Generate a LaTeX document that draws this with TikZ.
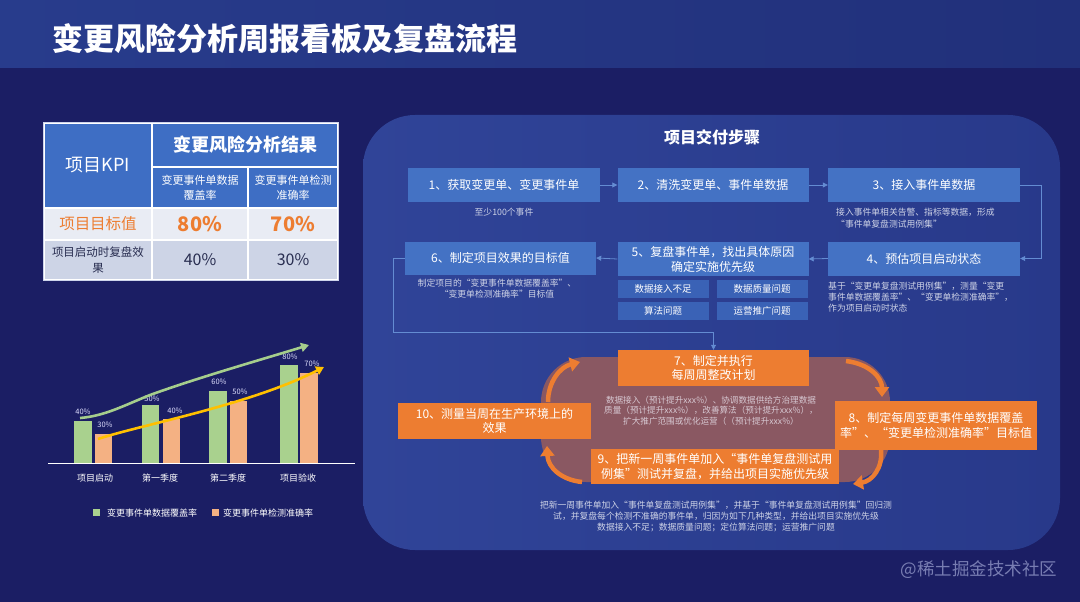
\documentclass[tikz,border=0pt]{standalone}
\usepackage{fontspec}
\setmainfont{Noto Sans CJK SC}
\usetikzlibrary{arrows.meta}
\definecolor{bg}{RGB}{27,30,100}
\definecolor{titleL}{RGB}{40,60,140}
\definecolor{titleR}{RGB}{33,48,122}
\definecolor{panelL}{RGB}{48,68,152}
\definecolor{panelR}{RGB}{40,57,138}
\definecolor{stepblue}{RGB}{68,114,196}
\definecolor{issueblue}{RGB}{58,98,182}
\definecolor{connblue}{RGB}{100,140,210}
\definecolor{ora}{RGB}{237,125,49}
\definecolor{blob}{RGB}{138,88,98}
\definecolor{notegray}{RGB}{205,210,230}
\definecolor{blobtext}{RGB}{215,200,210}
\definecolor{hblue}{RGB}{62,110,196}
\definecolor{rowlight}{RGB}{233,236,244}
\definecolor{rowgray}{RGB}{205,212,230}
\definecolor{darktext}{RGB}{40,45,80}
\definecolor{tborder}{RGB}{205,212,235}
\definecolor{bargreen}{RGB}{169,209,142}
\definecolor{barorange}{RGB}{244,177,131}
\definecolor{arrgreen}{RGB}{165,205,140}
\definecolor{arryellow}{RGB}{255,192,0}
\definecolor{wm}{RGB}{120,125,178}
\begin{document}
\begin{tikzpicture}[x=1pt,y=-1pt,
  stepbox/.style={fill=stepblue, text=white, inner sep=0pt, align=center, font=\fontsize{12}{15}\selectfont},
  issuebox/.style={fill=issueblue, text=white, inner sep=0pt, font=\fontsize{9.5}{11}\selectfont},
  orangebox/.style={fill=ora, text=white, inner sep=0pt, align=center, font=\fontsize{12}{14.5}\selectfont},
  note/.style={text=notegray, inner sep=0pt, font=\fontsize{8.8}{11}\selectfont},
  conn/.style={draw=connblue, line width=0.8pt, -{Triangle[length=5pt,width=5pt]}},
  loopar/.style={draw=ora, line width=4.5pt, -{Triangle[length=10pt,width=14pt]}},
  hcell/.style={fill=hblue, text=white, draw=white, line width=1.2pt, inner sep=0pt, align=center},
  lcell/.style={fill=rowlight, draw=white, line width=1.2pt, inner sep=0pt, align=center},
  gcell/.style={fill=rowgray, draw=white, line width=1.2pt, inner sep=0pt, align=center, text=darktext},
  vlabel/.style={text=white!88!blue, inner sep=0pt, font=\fontsize{7.5}{9}\selectfont},
  clabel/.style={text=white, inner sep=0pt, font=\fontsize{9}{11}\selectfont}
]
\useasboundingbox (0,0) rectangle (1080,602);
\fill[bg] (0,0) rectangle (1080,602);
\shade[left color=titleL, right color=titleR] (0,0) rectangle (1080,68);
\node[anchor=west, text=white, inner sep=0pt, font=\fontsize{31}{36}\selectfont\bfseries] (title) at (52,39) {变更风险分析周报看板及复盘流程};

% ---------- KPI table ----------
\node[hcell, minimum width=108pt, minimum height=85pt, font=\fontsize{18}{20}\selectfont] (kpi) at (98,165.5) {项目KPI};
\node[hcell, minimum width=186pt, minimum height=44pt, font=\fontsize{18}{20}\selectfont\bfseries] (res) at (245,145) {变更风险分析结果};
\node[hcell, minimum width=96pt, minimum height=41pt, font=\fontsize{11}{15}\selectfont] (h1) at (200,187.5) {变更事件单数据\\覆盖率};
\node[hcell, minimum width=90pt, minimum height=41pt, font=\fontsize{11}{15}\selectfont] (h2) at (293,187.5) {变更事件单检测\\准确率};
\node[lcell, minimum width=108pt, minimum height=32pt, text=ora, font=\fontsize{15.5}{18}\selectfont] (t0) at (98,224) {项目目标值};
\node[lcell, minimum width=96pt, minimum height=32pt, text=ora, font=\fontsize{20}{22}\selectfont\bfseries] (t1) at (200,224) {80\%};
\node[lcell, minimum width=90pt, minimum height=32pt, text=ora, font=\fontsize{20}{22}\selectfont\bfseries] (t2) at (293,224) {70\%};
\node[gcell, minimum width=108pt, minimum height=40pt, font=\fontsize{11.5}{16}\selectfont] (b0) at (98,260) {项目启动时复盘效\\果};
\node[gcell, minimum width=96pt, minimum height=40pt, font=\fontsize{16}{18}\selectfont] (b1) at (200,260) {40\%};
\node[gcell, minimum width=90pt, minimum height=40pt, font=\fontsize{16}{18}\selectfont] (b2) at (293,260) {30\%};
\draw[tborder, line width=1.6pt] (kpi.north west) rectangle (b2.south east);

% ---------- bar chart ----------
\fill[bargreen] (74,421) rectangle (92,463);
\fill[barorange] (95,434) rectangle (112,463);
\fill[bargreen] (142,405) rectangle (159,463);
\fill[barorange] (163,419) rectangle (180,463);
\fill[bargreen] (209,391) rectangle (227,463);
\fill[barorange] (230,401) rectangle (247,463);
\fill[bargreen] (280,365) rectangle (298,463);
\fill[barorange] (300,373) rectangle (318,463);
\draw[white, line width=0.8pt] (48,463) -- (355,463);
\node[vlabel] (v1) at (83,412) {40\%};
\node[vlabel] (v2) at (105,425) {30\%};
\node[vlabel] (v3) at (152,399) {50\%};
\node[vlabel] (v4) at (175,411) {40\%};
\node[vlabel] (v5) at (219,382) {60\%};
\node[vlabel] (v6) at (240,392) {50\%};
\node[vlabel] (v7) at (290,357) {80\%};
\node[vlabel] (v8) at (312,364) {70\%};
\draw[arrgreen, line width=2.6pt, -{Triangle[length=8pt,width=9pt]}] (80,418) .. controls (105,416) and (125,405) .. (150,395) .. controls (200,377) and (260,360) .. (309,345);
\draw[arryellow, line width=2.6pt, -{Triangle[length=8pt,width=9pt]}] (98,439) .. controls (140,425) and (250,405) .. (324,367);
\node[clabel] (x1) at (95,478) {项目启动};
\node[clabel] (x2) at (160,478) {第一季度};
\node[clabel] (x3) at (228,478) {第二季度};
\node[clabel] (x4) at (298,478) {项目验收};
\fill[bargreen] (93,509) rectangle (100,516);
\node[clabel, anchor=west] (lg1) at (107,513) {变更事件单数据覆盖率};
\fill[barorange] (212,509) rectangle (219,516);
\node[clabel, anchor=west] (lg2) at (223,513) {变更事件单检测准确率};

% ---------- right panel ----------
\shade[left color=panelL, right color=panelR, rounded corners=52pt] (363,115) rectangle (1060,550);
\node[text=white, inner sep=0pt, font=\fontsize{16}{18}\selectfont\bfseries] (ptitle) at (712,137) {项目交付步骤};

\node[stepbox, minimum width=192pt, minimum height=34pt] (s1) at (504,185) {1、获取变更单、变更事件单};
\node[stepbox, minimum width=191pt, minimum height=34pt] (s2) at (713,185) {2、清洗变更单、事件单数据};
\node[stepbox, minimum width=192pt, minimum height=34pt] (s3) at (924,185) {3、接入事件单数据};
\node[stepbox, minimum width=192pt, minimum height=34pt] (s4) at (924,258.5) {4、预估项目启动状态};
\node[stepbox, minimum width=191pt, minimum height=34pt] (s5) at (713,259) {5、复盘事件单，找出具体原因\\确定实施优先级};
\node[stepbox, minimum width=191pt, minimum height=33pt] (s6) at (500.5,258) {6、制定项目效果的目标值};

\node[issuebox, minimum width=91pt, minimum height=18pt] (i1) at (663,289) {数据接入不足};
\node[issuebox, minimum width=91pt, minimum height=18pt] (i2) at (762,289) {数据质量问题};
\node[issuebox, minimum width=91pt, minimum height=18pt] (i3) at (663,311) {算法问题};
\node[issuebox, minimum width=91pt, minimum height=18pt] (i4) at (762,311) {运营推广问题};

\node[note] (n1) at (504,212) {至少100个事件};
\node[note, anchor=north west, align=left, font=\fontsize{8.8}{12}\selectfont] (n3) at (836,208) {接入事件单相关告警、指标等数据，形成\\“事件单复盘测试用例集”};
\node[note, anchor=north west, align=left] (n4) at (828,282) {基于“变更单复盘测试用例集”，测量“变更\\事件单数据覆盖率”、“变更单检测准确率”，\\作为项目启动时状态};
\node[note, align=center] (n6) at (497,289) {制定项目的“变更事件单数据覆盖率”、\\“变更单检测准确率”目标值};

\draw[conn] (s1.east) -- (s2.west);
\draw[conn] (s2.east) -- (s3.west);
\draw[conn] (s3.east) -- ++(21,0) |- (s4.east);
\draw[conn] (s4.west) -- (s5.east);
\draw[conn] (s5.west) -- (s6.west -| s6.east);

% ---------- loop ----------
\fill[blob, rounded corners=45pt] (541,357) rectangle (890,482);
\node[orangebox, minimum width=191pt, minimum height=36pt] (s7) at (713.5,368) {7、制定并执行\\每周周整改计划};
\node[orangebox, minimum width=202pt, minimum height=49pt] (s8) at (936,425.5) {8、制定每周变更事件单数据覆盖\\率”、“变更单检测准确率”目标值};
\node[orangebox, minimum width=248pt, minimum height=35pt] (s9) at (715,466.5) {9、把新一周事件单加入“事件单复盘测试用\\例集”测试并复盘，并给出项目实施优先级};
\node[orangebox, minimum width=193pt, minimum height=36pt] (s10) at (494.5,421) {10、测量当周在生产环境上的\\效果};
\node[text=blobtext, inner sep=0pt, align=center, font=\fontsize{8.6}{10.5}\selectfont] (bn) at (711,410.5) {数据接入（预计提升xxx\%）、协调数据供给方治理数据\\质量（预计提升xxx\%），改善算法（预计提升xxx\%），\\扩大推广范围或优化运营（（预计提升xxx\%）};

\coordinate (k6) at (393,258);
\coordinate (k67) at (713.5,332);
\draw[conn] (s6.west) -- (k6) |- (k67) -- (s7.north);

\coordinate (a1) at (846,361);
\coordinate (a2) at (882,397);
\coordinate (b1) at (881,450);
\coordinate (b2) at (853,484);
\coordinate (c1) at (582,482);
\coordinate (c2) at (547,446);
\coordinate (d1) at (548,402);
\coordinate (d2) at (580,362);
\draw[loopar] (a1) .. controls (870,364) and (882,378) .. (a2);
\draw[loopar] (b1) .. controls (883,468) and (872,481) .. (b2);
\draw[loopar] (c1) .. controls (562,480) and (548,468) .. (c2);
\draw[loopar] (d1) .. controls (548,382) and (560,367) .. (d2);

\node[note, align=center] (n9) at (716,516) {把新一周事件单加入“事件单复盘测试用例集”，并基于“事件单复盘测试用例集”回归测\\试，并复盘每个检测不准确的事件单，归因为如下几种类型，并给出项目实施优先级\\数据接入不足；数据质量问题；定位算法问题；运营推广问题};

\node[text=wm, inner sep=0pt, font=\fontsize{17.5}{20}\selectfont] (wmk) at (979,570) {@稀土掘金技术社区};
\end{tikzpicture}
\end{document}
